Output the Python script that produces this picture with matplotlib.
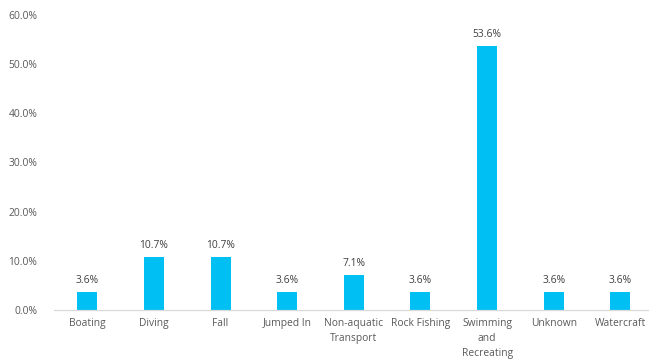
import matplotlib
matplotlib.use("Agg")
import matplotlib.pyplot as plt
from matplotlib.ticker import PercentFormatter

# Share of incidents by activity
categories = ["Boating", "Diving", "Fall", "Jumped In", "Non-aquatic\nTransport",
              "Rock Fishing", "Swimming\nand\nRecreating", "Unknown", "Watercraft"]
shares = [3.6, 10.7, 10.7, 3.6, 7.1, 3.6, 53.6, 3.6, 3.6]
bar_labels = ["3.6%", "10.7%", "10.7%", "3.6%", "7.1%", "3.6%", "53.6%", "3.6%", "3.6%"]
y_ticks = [0, 10, 20, 30, 40, 50, 60]

plt.rcParams["font.family"] = ["Open Sans", "DejaVu Sans"]
text_col = "#595959"

fig = plt.figure(figsize=(6.49, 3.63), dpi=100)
ax = fig.add_axes([54 / 649, 53 / 363, 1 - 54 / 649, 295 / 363])

x = list(range(len(categories)))
bars = ax.bar(x, shares, width=0.3, color="#00BFF3", zorder=2)

for b, lab in zip(bars, bar_labels):
    ax.text(b.get_x() + b.get_width() / 2, b.get_height() + 1.3, lab,
            ha="center", va="bottom", fontsize=7.4, color="#404040")

ax.set_xlim(-0.5, 8.43)
ax.set_ylim(0, 60)
ax.set_yticks(y_ticks)
ax.yaxis.set_major_formatter(PercentFormatter(decimals=1))
ax.set_xticks(x)
ax.set_xticklabels(categories, linespacing=1.5)

for s in ["top", "right", "left"]:
    ax.spines[s].set_visible(False)
ax.spines["bottom"].set_color("#D9D9D9")
ax.spines["bottom"].set_linewidth(0.9)
ax.tick_params(axis="both", length=0, labelsize=7.4, colors=text_col)
ax.tick_params(axis="y", pad=12)
ax.tick_params(axis="x", pad=6)

fig.savefig("out.png", dpi=100)
